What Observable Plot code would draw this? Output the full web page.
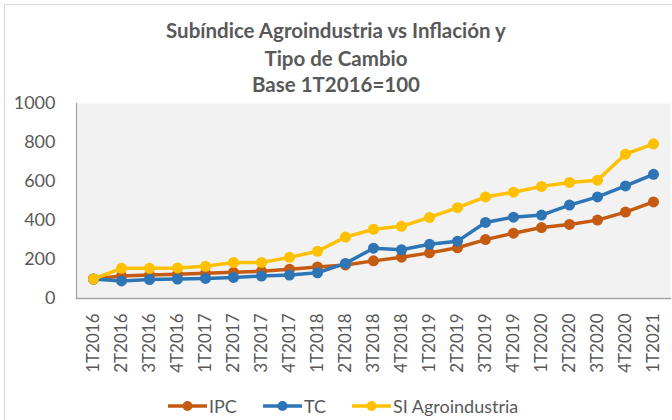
<!DOCTYPE html>
<html><head><meta charset="utf-8">
<script src="https://cdn.jsdelivr.net/npm/d3@7"></script>
<script src="https://cdn.jsdelivr.net/npm/@observablehq/plot@0.6"></script>
<style>
body{margin:0;background:#fff;font-family:Lato,"Open Sans",sans-serif;}
#wrap{position:relative;width:672px;height:420px;overflow:hidden;background:#fff;}
#border{position:absolute;left:4px;top:4px;width:700px;height:430px;border:1px solid #d9d9d9;}
.t{position:absolute;left:0;width:672px;text-align:center;font-weight:bold;color:#595959;font-size:20.5px;line-height:24px;}
#chart{position:absolute;left:0;top:0;}
.lg{position:absolute;top:395px;height:22px;display:flex;align-items:center;font-size:18px;color:#595959;}
.lg svg{margin-right:2px;}
</style></head><body>
<div id="wrap">
<div id="border"></div>
<div id="chart"></div>
<div class="t" style="top:18px">Subíndice Agroindustria vs Inflación y</div>
<div class="t" style="top:46px">Tipo de Cambio</div>
<div class="t" style="top:72px">Base 1T2016=100</div>
<div id="legend"></div>
</div>
<script>
const quarters = ["1T2016","2T2016","3T2016","4T2016","1T2017","2T2017","3T2017","4T2017","1T2018","2T2018","3T2018","4T2018","1T2019","2T2019","3T2019","4T2019","1T2020","2T2020","3T2020","4T2020","1T2021"];
const ipc = [100,115,120,124,129,134,140,150,162,172,193,212,234,260,302,335,364,380,402,443,495];
const tc  = [100, 90, 97,100,103,108,115,120,132,180,258,250,278,294,390,417,428,479,521,577,637];
const si  = [100,155,155,157,165,185,185,211,242,315,355,370,416,466,521,545,575,595,607,740,793];
const seriesNames = ["IPC","TC","SI Agroindustria"];
const seriesColors = ["#C55A11","#2E75B6","#FFC000"];
const yTicks = [0,200,400,600,800,1000];

const seriesValues = [ipc, tc, si];
const rows = seriesValues.map((vals, i) => vals.map((v, j) => ({q: quarters[j], v, s: seriesNames[i]})));

const marks = [
  Plot.frame({fill: "#f2f2f2", stroke: null}),
  Plot.frame({anchor: "left", stroke: "#a6a6a6", strokeWidth: 1.3}),
  Plot.frame({anchor: "bottom", stroke: "#a6a6a6", strokeWidth: 1.3}),
  Plot.axisY({ticks: yTicks, tickFormat: d => String(d), tickSize: 0, tickPadding: 21, fontSize: 18, label: null}),
  Plot.axisX({tickRotate: -90, tickSize: 0, tickPadding: 15, fontSize: 17, label: null})
];
rows.forEach((r, i) => {
  marks.push(Plot.line(r, {x: "q", y: "v", stroke: seriesColors[i], strokeWidth: 3.5}));
  marks.push(Plot.dot(r, {x: "q", y: "v", r: 5.5, fill: seriesColors[i], stroke: null}));
});

const chart = Plot.plot({
  width: 672,
  height: 390,
  marginLeft: 76,
  marginRight: 2,
  marginTop: 103,
  marginBottom: 92,
  style: {background: "transparent", color: "#595959", fontFamily: "Lato, 'Open Sans', sans-serif"},
  x: {type: "point", domain: quarters, padding: 0.5},
  y: {domain: [0, 1000]},
  marks
});
document.getElementById("chart").appendChild(chart);

const legendLefts = [168, 263, 352];
const lg = document.getElementById("legend");
seriesNames.forEach((name, i) => {
  const d = document.createElement("div");
  d.className = "lg";
  d.style.left = legendLefts[i] + "px";
  d.innerHTML = `<svg width="39" height="14"><line x1="0" y1="7" x2="39" y2="7" stroke="${seriesColors[i]}" stroke-width="3.5"/><circle cx="19.5" cy="7" r="5" fill="${seriesColors[i]}"/></svg><span>${name}</span>`;
  lg.appendChild(d);
});
</script>
</body></html>
